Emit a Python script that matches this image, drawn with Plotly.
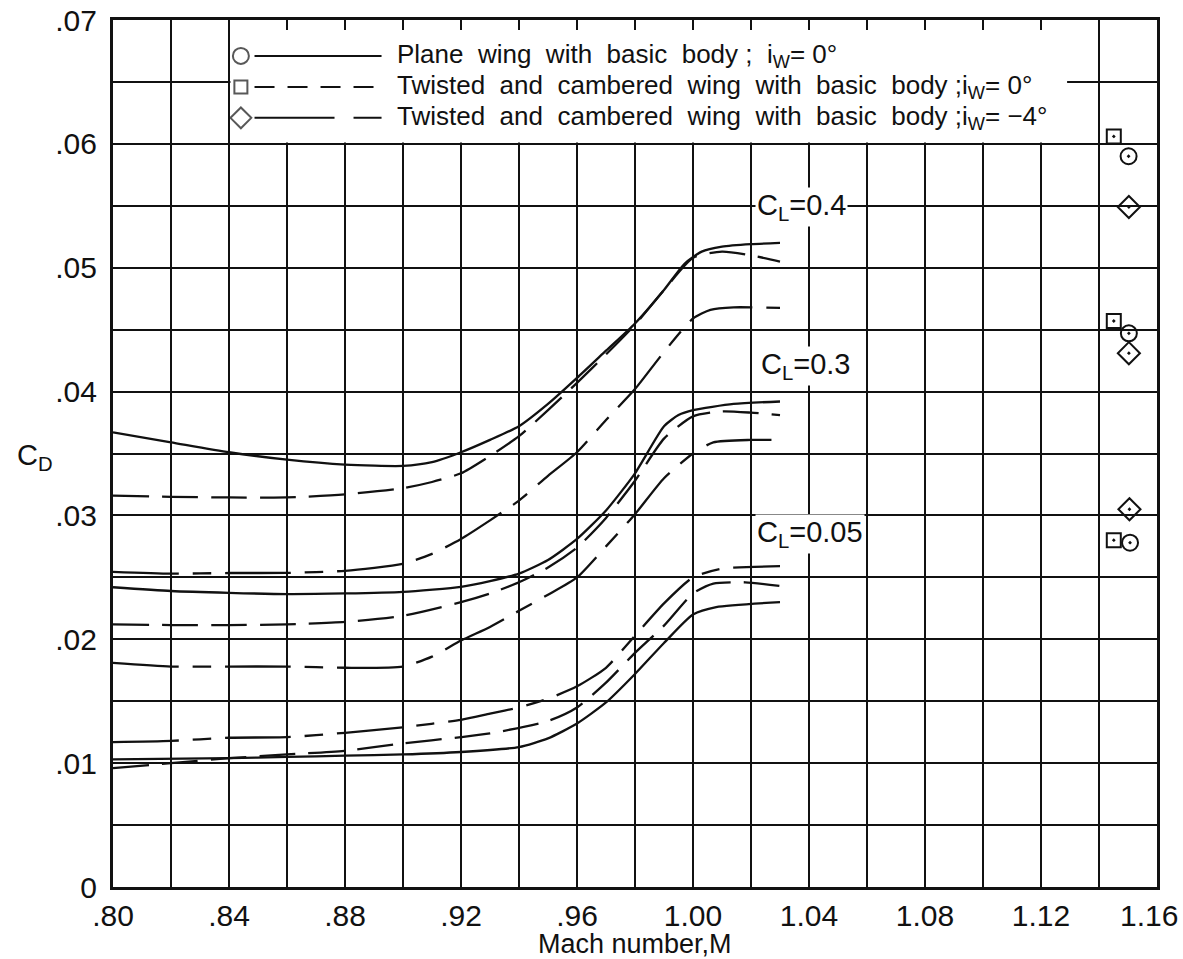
import plotly.graph_objects as go

# ---------------- data ----------------
# C_L = 0.4
m_plane_04 = [0.80, 0.82, 0.84, 0.86, 0.88, 0.90, 0.91, 0.92, 0.93, 0.94, 0.95, 0.96, 0.97, 0.98, 0.99, 0.997, 1.003, 1.01, 1.02, 1.03]
cd_plane_04 = [0.0367, 0.0359, 0.0351, 0.0345, 0.0341, 0.0340, 0.0343, 0.0351, 0.0361, 0.0372, 0.0390, 0.0411, 0.0433, 0.0455, 0.0482, 0.0503, 0.0513, 0.0517, 0.0519, 0.0520]
m_tw0_04 = [0.80, 0.82, 0.84, 0.86, 0.88, 0.90, 0.91, 0.92, 0.93, 0.94, 0.95, 0.96, 0.97, 0.98, 0.99, 1.00, 1.01, 1.02, 1.03]
cd_tw0_04 = [0.0316, 0.0315, 0.03145, 0.03145, 0.0317, 0.0322, 0.0327, 0.0334, 0.0348, 0.0364, 0.0385, 0.0407, 0.0430, 0.0454, 0.0482, 0.0508, 0.0513, 0.0510, 0.0505]
m_tw4_04 = [0.80, 0.82, 0.84, 0.86, 0.88, 0.90, 0.91, 0.92, 0.93, 0.94, 0.95, 0.96, 0.97, 0.98, 0.99, 1.00, 1.006, 1.014, 1.03]
cd_tw4_04 = [0.02545, 0.0253, 0.02535, 0.02536, 0.02553, 0.0261, 0.0269, 0.0281, 0.0296, 0.0312, 0.0332, 0.0351, 0.0377, 0.0402, 0.0432, 0.0459, 0.0466, 0.0468, 0.04675]

# C_L = 0.3
m_plane_03 = [0.80, 0.82, 0.84, 0.86, 0.88, 0.90, 0.92, 0.93, 0.94, 0.95, 0.96, 0.97, 0.98, 0.99, 0.995, 1.00, 1.014, 1.03]
cd_plane_03 = [0.0242, 0.0239, 0.02375, 0.02365, 0.0237, 0.02383, 0.02424, 0.0247, 0.0253, 0.0264, 0.0281, 0.0304, 0.0334, 0.0372, 0.0381, 0.0385, 0.0390, 0.0392]
m_tw0_03 = [0.80, 0.82, 0.84, 0.86, 0.88, 0.90, 0.92, 0.93, 0.94, 0.95, 0.96, 0.97, 0.98, 0.99, 1.00, 1.01, 1.02, 1.03]
cd_tw0_03 = [0.0212, 0.02115, 0.02115, 0.0212, 0.0214, 0.0219, 0.0230, 0.0237, 0.0246, 0.0258, 0.0274, 0.0298, 0.0328, 0.0362, 0.0380, 0.0384, 0.0383, 0.0381]
m_tw4_03 = [0.80, 0.82, 0.84, 0.86, 0.88, 0.90, 0.91, 0.92, 0.93, 0.94, 0.95, 0.96, 0.97, 0.98, 0.99, 1.00, 1.007, 1.02, 1.03]
cd_tw4_03 = [0.0181, 0.0178, 0.0178, 0.0178, 0.0177, 0.0178, 0.0186, 0.0199, 0.0210, 0.0223, 0.0236, 0.0250, 0.0275, 0.0301, 0.0330, 0.0350, 0.0359, 0.0361, 0.0361]

# C_L = 0.05
m_plane_005 = [0.80, 0.84, 0.86, 0.88, 0.90, 0.92, 0.94, 0.95, 0.96, 0.97, 0.98, 0.99, 1.00, 1.008, 1.03]
cd_plane_005 = [0.0103, 0.0104, 0.0105, 0.0106, 0.0107, 0.0109, 0.0113, 0.0120, 0.0132, 0.0149, 0.0172, 0.0197, 0.0220, 0.0226, 0.0230]
m_tw0_005 = [0.80, 0.82, 0.84, 0.86, 0.88, 0.90, 0.92, 0.93, 0.95, 0.96, 0.97, 0.98, 0.99, 1.00, 1.007, 1.018, 1.03]
cd_tw0_005 = [0.0096, 0.0100, 0.0104, 0.0107, 0.0110, 0.0116, 0.0121, 0.0124, 0.0134, 0.0145, 0.0165, 0.0189, 0.0211, 0.0237, 0.0245, 0.0246, 0.0243]
m_tw4_005 = [0.80, 0.82, 0.84, 0.86, 0.88, 0.90, 0.92, 0.93, 0.94, 0.95, 0.96, 0.97, 0.98, 0.99, 1.00, 1.01, 1.03]
cd_tw4_005 = [0.0117, 0.0118, 0.01205, 0.0121, 0.01245, 0.0129, 0.0135, 0.0140, 0.0145, 0.0152, 0.0162, 0.0177, 0.0203, 0.0229, 0.0250, 0.0257, 0.0259]

# supersonic test points (M ~ 1.15), C_L = 0.4, 0.3, 0.05
m_pts_plane = [1.1502, 1.1503, 1.1507]
cd_pts_plane = [0.0590, 0.0447, 0.0278]
m_pts_tw0 = [1.1451, 1.1451, 1.1451]
cd_pts_tw0 = [0.0606, 0.0457, 0.0280]
m_pts_tw4 = [1.1503, 1.1503, 1.1505]
cd_pts_tw4 = [0.0549, 0.0431, 0.0305]

# C_L labels
cl_labels = ["C<sub>L</sub>=0.4", "C<sub>L</sub>=0.3", "C<sub>L</sub>=0.05"]
cl_label_m = [1.0214, 1.0226, 1.0214]
cl_label_cd = [0.0549, 0.0421, 0.0285]

# legend
legend_texts = [
    "Plane  wing  with  basic  body ;  i<sub>W</sub>= 0°",
    "Twisted  and  cambered  wing  with  basic  body ;i<sub>W</sub>= 0°",
    "Twisted  and  cambered  wing  with  basic  body ;i<sub>W</sub>= −4°",
]
legend_cd = [0.0671, 0.0646, 0.0621]

# ticks (the last x label is drawn as an annotation so it is not cut at the edge)
x_tickvals = [0.80, 0.82, 0.84, 0.86, 0.88, 0.90, 0.92, 0.94, 0.96, 0.98, 1.00, 1.02, 1.04, 1.06, 1.08, 1.10, 1.12, 1.14, 1.16]
x_ticktext = [".80", "", ".84", "", ".88", "", ".92", "", ".96", "", "1.00", "", "1.04", "", "1.08", "", "1.12", "", ""]
x_last_label = "1.16"
y_tickvals = [0.0, 0.005, 0.01, 0.015, 0.02, 0.025, 0.03, 0.035, 0.04, 0.045, 0.05, 0.055, 0.06, 0.065, 0.07]
y_ticktext = ["0", "", ".01", "", ".02", "", ".03", "", ".04", "", ".05", "", ".06", "", ".07"]

# ---------------- styles / geometry ----------------
FONT = "Liberation Sans"
BLACK = "#111111"
DASH_TW0 = "36px,13px"
DASH_TW4 = "66px,14px,18px,14px"
LW = 2.3
W, H = 1183, 959
ML, MR, MT, MB = 113, 26, 20, 72
PW, PH = W - ML - MR, H - MT - MB


def px_x(page_x):
    return (page_x - ML) / PW


def px_y(page_y):
    return (MT + PH - page_y) / PH


fig = go.Figure()

curves = [
    (m_plane_04, cd_plane_04, "solid"),
    (m_tw0_04, cd_tw0_04, DASH_TW0),
    (m_tw4_04, cd_tw4_04, DASH_TW4),
    (m_plane_03, cd_plane_03, "solid"),
    (m_tw0_03, cd_tw0_03, DASH_TW0),
    (m_tw4_03, cd_tw4_03, DASH_TW4),
    (m_plane_005, cd_plane_005, "solid"),
    (m_tw0_005, cd_tw0_005, DASH_TW0),
    (m_tw4_005, cd_tw4_005, DASH_TW4),
]
for mx, cy, dash in curves:
    fig.add_trace(go.Scatter(
        x=mx, y=cy, mode="lines",
        line=dict(color=BLACK, width=LW, dash=dash, shape="spline", smoothing=0.6),
        showlegend=False, hoverinfo="skip"))

for mx, cy, sym, size in [
    (m_pts_plane, cd_pts_plane, "circle-open-dot", 16),
    (m_pts_tw0, cd_pts_tw0, "square-open-dot", 14),
    (m_pts_tw4, cd_pts_tw4, "diamond-open-dot", 17),
]:
    fig.add_trace(go.Scatter(
        x=mx, y=cy, mode="markers",
        marker=dict(symbol=sym, size=size, color=BLACK, line=dict(color=BLACK, width=2)),
        showlegend=False, hoverinfo="skip"))

# legend box (white, hides grid, keeps top ticks)
shapes = [dict(type="rect", xref="x", yref="y", x0=0.8405, x1=1.129, y0=0.0601, y1=0.0700,
               fillcolor="white", line=dict(width=0), layer="between")]
leg_sym_m = 0.8441
leg_line_m0, leg_line_m1 = 0.8488, 0.8926
leg_dashes = ["solid", "20px,13px", "80px,19px,30px,19px"]
for cy, dash in zip(legend_cd, leg_dashes):
    shapes.append(dict(type="line", xref="x", yref="y", x0=leg_line_m0, x1=leg_line_m1, y0=cy, y1=cy,
                       line=dict(color=BLACK, width=2, dash=dash), layer="above"))
fig.add_trace(go.Scatter(
    x=[leg_sym_m] * 3, y=legend_cd, mode="markers",
    marker=dict(symbol=["circle-open", "square-open", "diamond-open"], size=[16, 13, 16],
                color=BLACK, line=dict(color=BLACK, width=2)),
    showlegend=False, hoverinfo="skip"))

annotations = []
for t, cy in zip(legend_texts, legend_cd):
    annotations.append(dict(x=0.8972, y=cy, xref="x", yref="y", text=t, showarrow=False,
                            xanchor="left", yanchor="middle",
                            font=dict(family=FONT, size=26, color=BLACK)))
for t, mx, cy in zip(cl_labels, cl_label_m, cl_label_cd):
    annotations.append(dict(x=mx, y=cy, xref="x", yref="y", text=t, showarrow=False,
                            xanchor="left", yanchor="middle", bgcolor="white", borderpad=1,
                            font=dict(family=FONT, size=29, color=BLACK)))
annotations.append(dict(x=px_x(35), y=0.0347, xref="paper", yref="y", text="C<sub>D</sub>",
                        showarrow=False, xanchor="center", yanchor="middle",
                        font=dict(family=FONT, size=29, color=BLACK)))
annotations.append(dict(x=0.5, y=px_y(944), xref="paper", yref="paper", text="Mach number,M",
                        showarrow=False, xanchor="center", yanchor="middle",
                        font=dict(family=FONT, size=27, color=BLACK)))
annotations.append(dict(x=px_x(1180), y=px_y(915), xref="paper", yref="paper",
                        text=x_last_label, showarrow=False, xanchor="right", yanchor="middle",
                        font=dict(family=FONT, size=30, color=BLACK)))

fig.update_layout(
    width=W, height=H,
    margin=dict(l=ML, r=MR, t=MT, b=MB, autoexpand=False),
    paper_bgcolor="white", plot_bgcolor="white",
    shapes=shapes, annotations=annotations,
    hovermode=False,
    xaxis=dict(range=[0.80, 1.16], tickvals=x_tickvals, ticktext=x_ticktext, automargin=False,
               showgrid=True, gridcolor=BLACK, gridwidth=2, zeroline=False,
               showline=True, linecolor=BLACK, linewidth=3, mirror="ticks",
               ticks="inside", ticklen=10, tickwidth=2, tickcolor=BLACK,
               ticklabelstandoff=0, ticklabeloverflow="allow",
               tickfont=dict(family=FONT, size=30, color=BLACK)),
    yaxis=dict(range=[0, 0.07], tickvals=y_tickvals, ticktext=y_ticktext, automargin=False,
               showgrid=True, gridcolor=BLACK, gridwidth=2, zeroline=False,
               showline=True, linecolor=BLACK, linewidth=3, mirror="ticks",
               ticks="inside", ticklen=6, tickwidth=2, tickcolor=BLACK,
               ticklabelstandoff=7, ticklabeloverflow="allow",
               tickfont=dict(family=FONT, size=30, color=BLACK)),
)

# place the figure at the page's top-left corner (no default body margin, no scrollbars)
fig.write_html("out.html",
               config={"displayModeBar": False},
               post_script="document.body.style.margin='0';document.body.style.overflow='hidden';")
